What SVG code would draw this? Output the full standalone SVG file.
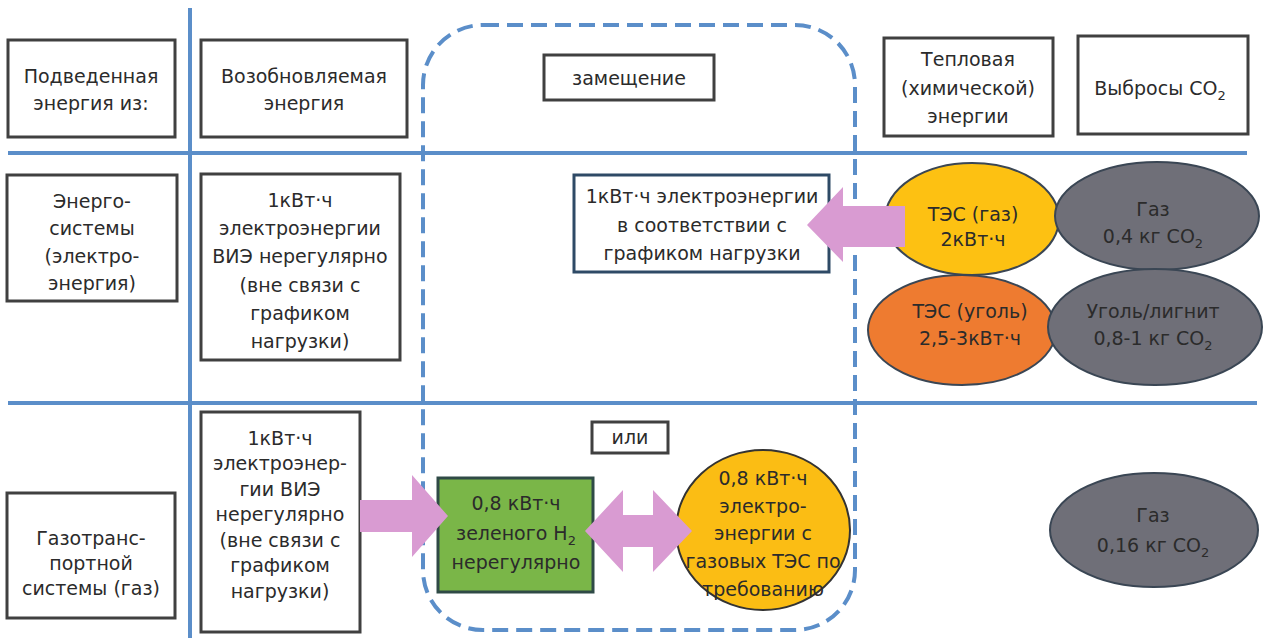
<svg xmlns="http://www.w3.org/2000/svg" width="1265" height="638" viewBox="0 0 1265 638">
<style>
.t{font-family:"DejaVu Sans","Liberation Sans",sans-serif;font-size:19px;fill:#2b2b2b;text-anchor:middle}
.box{fill:#fff;stroke:#404040;stroke-width:3}
.grid{stroke:#5b8ec9;stroke-width:4;fill:none}
.arrow{fill:#d99bd2;stroke:none}
.ell{stroke:#3a4654;stroke-width:2}
.sub{font-size:13px}
</style>
<rect width="1265" height="638" fill="#fff"/>
<g id="grid">
<line class="grid" x1="190" y1="8" x2="190" y2="638"/>
<line class="grid" x1="8" y1="153" x2="1247" y2="153"/>
<line class="grid" x1="8" y1="403" x2="1257" y2="403"/>
<rect id="substitution-zone" x="423" y="25" width="432" height="605" rx="60" ry="60" fill="none" stroke="#5b8ec9" stroke-width="4" stroke-dasharray="16 8"/>
</g>
<g id="h-supplied"><rect class="box" x="8" y="40" width="167" height="97"/><text class="t" x="91" y="83">Подведенная</text><text class="t" x="91" y="110">энергия из:</text></g>
<g id="h-renewable"><rect class="box" x="201" y="40" width="206" height="97"/><text class="t" x="304" y="83">Возобновляемая</text><text class="t" x="304" y="110">энергия</text></g>
<g id="h-substitution"><rect class="box" x="544" y="55" width="170" height="45"/><text class="t" x="629" y="85">замещение</text></g>
<g id="h-thermal"><rect class="box" x="884" y="38" width="169" height="98"/><text class="t" x="968" y="66">Тепловая</text><text class="t" x="968" y="95">(химической)</text><text class="t" x="968" y="123">энергии</text></g>
<g id="h-co2"><rect class="box" x="1078" y="36" width="170" height="98"/><text class="t" x="1160" y="95">Выбросы CO<tspan class="sub" dy="5">2</tspan></text></g>
<g id="r1-label"><rect class="box" x="7" y="175" width="170" height="126"/><text class="t" x="92" y="208">Энерго-</text><text class="t" x="92" y="235">системы</text><text class="t" x="92" y="263">(электро-</text><text class="t" x="92" y="290">энергия)</text></g>
<g id="r1-res"><rect class="box" x="201" y="174" width="199" height="186"/><text class="t" x="300" y="207">1кВт·ч</text><text class="t" x="300" y="235">электроэнергии</text><text class="t" x="300" y="263">ВИЭ нерегулярно</text><text class="t" x="300" y="292">(вне связи с</text><text class="t" x="300" y="320">графиком</text><text class="t" x="300" y="348">нагрузки)</text></g>
<g id="r1-load"><rect class="box" x="574" y="175" width="255" height="97" style="stroke:#2e4a66"/><text class="t" x="702" y="203">1кВт·ч электроэнергии</text><text class="t" x="702" y="232">в соответствии с</text><text class="t" x="702" y="260">графиком нагрузки</text></g>
<g id="r1-gas-tes"><ellipse class="ell" cx="972" cy="219" rx="87" ry="56" fill="#fdc112"/><text class="t" x="973" y="221">ТЭС (газ)</text><text class="t" x="973" y="246">2кВт·ч</text></g>
<g id="r1-gas-co2"><ellipse class="ell" cx="1157" cy="216" rx="102" ry="54" fill="#6f6f78"/><text class="t" x="1153" y="216">Газ</text><text class="t" x="1153" y="243">0,4 кг CO<tspan class="sub" dy="5">2</tspan></text></g>
<g id="r1-coal-tes"><ellipse class="ell" cx="962" cy="330" rx="94" ry="55" fill="#ee7b30"/><text class="t" x="970" y="318">ТЭС (уголь)</text><text class="t" x="970" y="345">2,5-3кВт·ч</text></g>
<g id="r1-coal-co2"><ellipse class="ell" cx="1155" cy="327" rx="107" ry="58" fill="#6f6f78"/><text class="t" x="1153" y="318">Уголь/лигнит</text><text class="t" x="1153" y="345">0,8-1 кг CO<tspan class="sub" dy="5">2</tspan></text></g>
<g id="r2-label"><rect class="box" x="7" y="493" width="168" height="125"/><text class="t" x="91" y="545">Газотранс-</text><text class="t" x="91" y="570">портной</text><text class="t" x="91" y="595">системы (газ)</text></g>
<g id="r2-res"><rect class="box" x="201" y="412" width="159" height="220"/><text class="t" x="280" y="445">1кВт·ч</text><text class="t" x="280" y="470">электроэнер-</text><text class="t" x="280" y="496">гии ВИЭ</text><text class="t" x="280" y="521">нерегулярно</text><text class="t" x="280" y="547">(вне связи с</text><text class="t" x="280" y="572">графиком</text><text class="t" x="280" y="598">нагрузки)</text></g>
<g id="r2-or"><rect class="box" x="592" y="422" width="76" height="31"/><text class="t" x="630" y="444">или</text></g>
<g id="r2-h2"><rect x="438" y="478" width="155" height="114" fill="#7ab648" stroke="#2f4a46" stroke-width="3"/><text class="t" x="516" y="510">0,8 кВт·ч</text><text class="t" x="516" y="540">зеленого H<tspan class="sub" dy="5">2</tspan></text><text class="t" x="516" y="569">нерегулярно</text></g>
<g id="r2-gas-tes"><ellipse cx="763" cy="530" rx="87" ry="80" fill="#fbbd14" stroke="#333" stroke-width="2"/><text class="t" x="763" y="485">0,8 кВт·ч</text><text class="t" x="763" y="513">электро-</text><text class="t" x="763" y="540">энергии с</text><text class="t" x="763" y="568">газовых ТЭС по</text><text class="t" x="763" y="596">требованию</text></g>
<g id="r2-gas-co2"><ellipse class="ell" cx="1154" cy="530" rx="104" ry="57" fill="#6f6f78"/><text class="t" x="1153" y="522">Газ</text><text class="t" x="1153" y="552">0,16 кг CO<tspan class="sub" dy="5">2</tspan></text></g>
<g id="connectors">
<polygon class="arrow" points="807,225 843,187 843,206 905,206 905,247 843,247 843,262"/>
<polygon class="arrow" points="360,500 412,500 412,475 448,516 412,557 412,532 360,532"/>
<polygon class="arrow" points="585,531 623,490 623,515 653,515 653,490 692,531 653,572 653,547 623,547 623,572"/>
</g>
</svg>
